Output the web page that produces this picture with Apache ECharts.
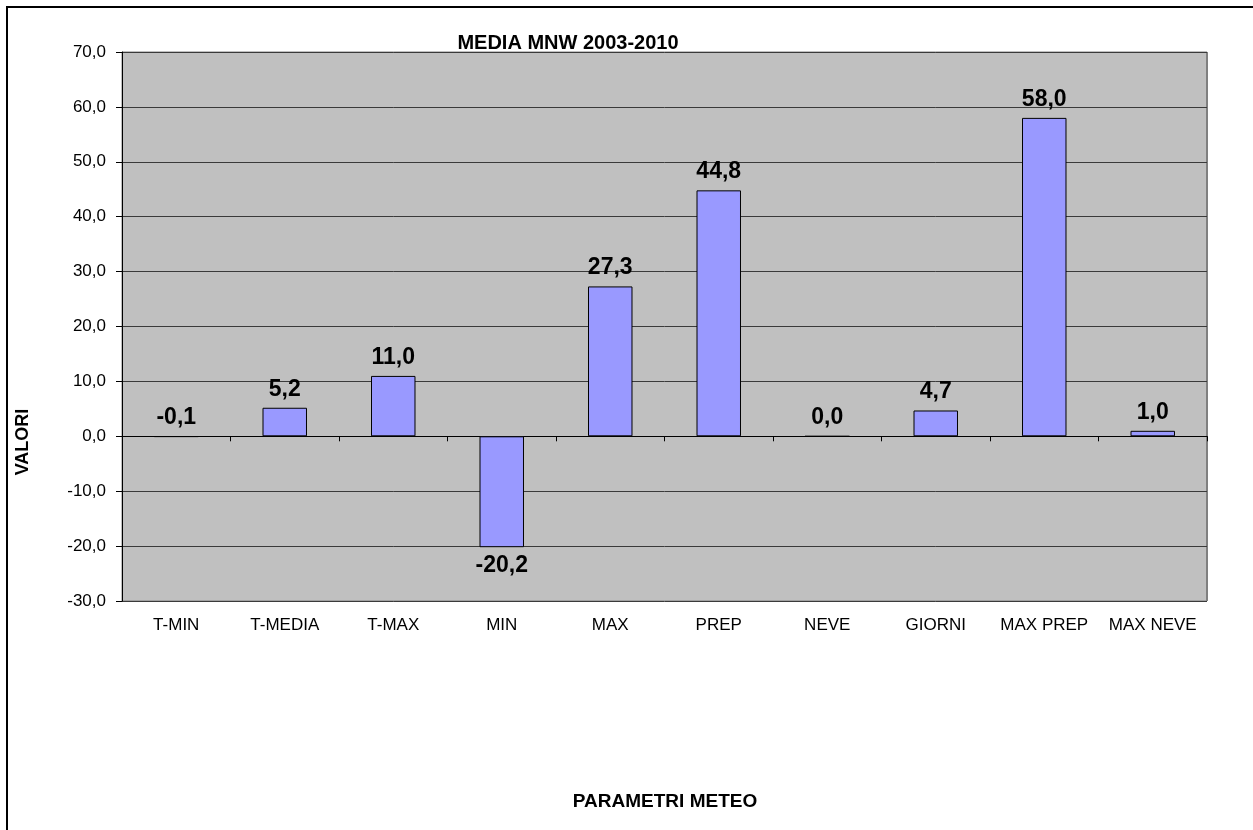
<!DOCTYPE html>
<html>
<head>
<meta charset="utf-8">
<script src="https://cdn.jsdelivr.net/npm/echarts@6/dist/echarts.min.js"></script>
<style>
  html, body { margin: 0; padding: 0; background: #ffffff; }
  #chart { width: 1253px; height: 830px; }
</style>
</head>
<body>
<div id="chart"></div>
<script>
// Parametri meteo: medie MNW 2003-2010
const categories = ['T-MIN', 'T-MEDIA', 'T-MAX', 'MIN', 'MAX', 'PREP', 'NEVE', 'GIORNI', 'MAX PREP', 'MAX NEVE'];
const values = [-0.1, 5.2, 11.0, -20.2, 27.3, 44.8, 0.0, 4.7, 58.0, 1.0];
const yMin = -30;
const yMax = 70;
const yStep = 10;

const fmt = v => Number(v).toFixed(1).replace('.', ',');
const FONT = 'Liberation Sans, Arial, sans-serif';

const chart = echarts.init(document.getElementById('chart'), null, { renderer: 'canvas' });

const barData = values.map(v => ({
  value: v,
  label: { position: v < -1 ? 'bottom' : 'top' }
}));

chart.setOption({
  animation: false,
  backgroundColor: '#ffffff',
  title: {
    text: 'MEDIA MNW 2003-2010',
    left: 563,
    top: 28,
    textAlign: 'center',
    textStyle: { fontFamily: FONT, fontWeight: 'bold', fontSize: 20, color: '#000' }
  },
  grid: {
    left: 122, right: 46, top: 52, bottom: 229,
    show: true,
    backgroundColor: '#c0c0c0',
    borderColor: '#808080',
    borderWidth: 1
  },
  xAxis: [
    {
      type: 'category',
      data: categories,
      position: 'bottom',
      axisLine: { show: false, onZero: false },
      axisTick: { show: false },
      splitLine: { show: false },
      axisLabel: {
        interval: 0,
        margin: 16,
        fontFamily: FONT,
        fontSize: 17,
        color: '#000'
      }
    },
    {
      type: 'category',
      data: categories,
      position: 'bottom',
      axisLine: { show: true, onZero: true, lineStyle: { color: '#000', width: 1 } },
      axisTick: { show: true, length: 5, inside: false, alignWithLabel: false, lineStyle: { color: '#000' } },
      axisLabel: { show: false },
      splitLine: { show: false }
    }
  ],
  yAxis: {
    type: 'value',
    min: yMin,
    max: yMax,
    interval: yStep,
    axisLine: { show: true, onZero: false, lineStyle: { color: '#000', width: 1 } },
    axisTick: { show: true, length: 6, inside: false, lineStyle: { color: '#000' } },
    splitLine: { show: true, lineStyle: { color: '#3a3a3a', width: 1 } },
    axisLabel: {
      margin: 16,
      fontFamily: FONT,
      fontSize: 17,
      color: '#000',
      formatter: v => fmt(v)
    }
  },
  series: [{
    type: 'bar',
    xAxisIndex: 0,
    data: barData,
    barWidth: '41%',
    z: 3,
    itemStyle: { color: '#9999ff', borderColor: '#000', borderWidth: 1 },
    label: {
      show: true,
      distance: 7,
      fontFamily: FONT,
      fontWeight: 'bold',
      fontSize: 23,
      color: '#000',
      formatter: p => fmt(p.value)
    }
  }],
  graphic: [
    {
      type: 'rect',
      silent: true,
      shape: { x: 7, y: 7, width: 1270, height: 850 },
      style: { fill: 'none', stroke: '#000', lineWidth: 2 }
    },
    {
      type: 'rect',
      silent: true,
      shape: { x: 1206, y: 52, width: 2, height: 549 },
      style: { fill: '#808080' }
    },
    {
      type: 'text',
      silent: true,
      x: 23,
      y: 442,
      rotation: Math.PI / 2,
      style: {
        text: 'VALORI',
        fontFamily: FONT,
        fontWeight: 'bold',
        fontSize: 18,
        fill: '#000',
        align: 'center',
        verticalAlign: 'middle'
      }
    },
    {
      type: 'text',
      silent: true,
      x: 665,
      y: 802,
      style: {
        text: 'PARAMETRI METEO',
        fontFamily: FONT,
        fontWeight: 'bold',
        fontSize: 19,
        fill: '#000',
        align: 'center',
        verticalAlign: 'middle'
      }
    }
  ]
});
</script>
</body>
</html>
